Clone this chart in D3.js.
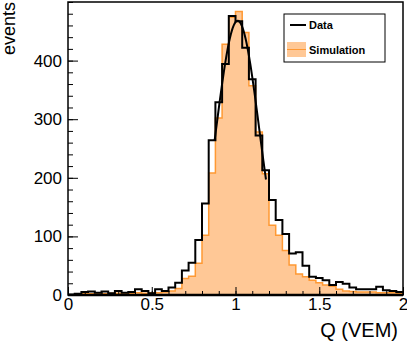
<!DOCTYPE html>
<html>
<head>
<meta charset="utf-8">
<script src="https://cdn.jsdelivr.net/npm/d3@7"></script>
<style>
  body { margin: 0; background: #fff; }
  svg { display: block; font-family: "Liberation Sans", Arial, sans-serif; }
</style>
</head>
<body>
<svg id="chart"></svg>
<script>
// Histogram binning: 50 bins of width 0.04 between 0 and 2 VEM
const binEdges = d3.range(0, 51).map(i => +(i * 0.04).toFixed(2));

// Data counts per bin
const dataCounts = [1, 2, 5, 6, 4, 6, 3, 7, 4, 5, 10, 7, 3, 10, 7, 13, 21, 42, 55, 94,
  156, 264, 329, 394, 476, 467, 422, 368, 272, 213, 162, 128, 104, 71, 73, 50, 31, 29, 25, 17,
  22, 19, 13, 10, 10, 10, 14, 8, 7, 5];

// Simulation counts per bin
const simCounts = [0, 1, 2, 2, 3, 2, 3, 3, 3, 3, 4, 3, 4, 4, 5, 7, 11, 28, 32, 54,
  102, 208, 302, 428, 474, 484, 448, 357, 278, 207, 119, 102, 76, 51, 36, 31, 25, 21, 17, 15,
  10, 7, 6, 5, 5, 5, 4, 4, 4, 3];

// Gaussian fit to the data peak
const fitParams = { amp: 468, mean: 1.013, sigma: 0.1285 };
const fitRange = [0.875, 1.182];

const xMajor = [0, 0.5, 1, 1.5, 2];
const xMinor = d3.range(0, 21).map(i => +(i * 0.1).toFixed(1));
const yMajor = [0, 100, 200, 300, 400];
const yMinor = d3.range(0, 26).map(i => i * 20);

const W = 407, H = 347;
const svg = d3.select("#chart").attr("width", W).attr("height", H);

const x = d3.scaleLinear().domain([0, 2]).range([68, 403]);
const y = d3.scaleLinear().domain([0, 500]).range([295, 2]);

const fillCol = "#ffc896";
const lineCol = "#ff9933";

// step points: each bin's left edge with its count, plus closing right edge
function stepPoints(counts) {
  const pts = counts.map((c, i) => [binEdges[i], c]);
  pts.push([binEdges[counts.length], counts[counts.length - 1]]);
  return pts;
}

const simPts = stepPoints(simCounts);
const dataPts = stepPoints(dataCounts);

// Simulation filled histogram
svg.append("path")
  .datum(simPts)
  .attr("fill", fillCol)
  .attr("d", d3.area().curve(d3.curveStepAfter)
    .x(d => x(d[0])).y0(y(0)).y1(d => y(d[1])));

svg.append("path")
  .datum(simPts)
  .attr("fill", "none")
  .attr("stroke", lineCol)
  .attr("stroke-width", 1.5)
  .attr("d", d3.line().curve(d3.curveStepAfter).x(d => x(d[0])).y(d => y(d[1])));

// Data histogram
svg.append("path")
  .datum(dataPts)
  .attr("fill", "none")
  .attr("stroke", "#000")
  .attr("stroke-width", 2)
  .attr("d", d3.line().curve(d3.curveStepAfter).x(d => x(d[0])).y(d => y(d[1])));

// Gaussian fit curve
const fitPts = d3.range(0, 61).map(i => {
  const q = fitRange[0] + (fitRange[1] - fitRange[0]) * i / 60;
  const v = fitParams.amp * Math.exp(-Math.pow(q - fitParams.mean, 2) / (2 * fitParams.sigma * fitParams.sigma));
  return [q, v];
});
svg.append("path")
  .datum(fitPts)
  .attr("fill", "none")
  .attr("stroke", "#000")
  .attr("stroke-width", 2)
  .attr("d", d3.line().x(d => x(d[0])).y(d => y(d[1])));

// Axes with inward ticks
const xAxisG = svg.append("g").attr("transform", `translate(0,${y(0)})`);
xAxisG.append("g")
  .call(d3.axisBottom(x).tickValues(xMinor).tickSize(-4).tickFormat(""))
  .call(g => g.select(".domain").remove());
xAxisG.append("g")
  .call(d3.axisBottom(x).tickValues(xMajor).tickSize(-8).tickPadding(3).tickFormat(d3.format("")))
  .call(g => g.select(".domain").remove())
  .call(g => g.selectAll("text").attr("font-size", 17).attr("fill", "#000").attr("font-family", null));

const yAxisG = svg.append("g").attr("transform", `translate(${x(0)},0)`);
yAxisG.append("g")
  .call(d3.axisLeft(y).tickValues(yMinor).tickSize(-5).tickFormat(""))
  .call(g => g.select(".domain").remove());
yAxisG.append("g")
  .call(d3.axisLeft(y).tickValues(yMajor).tickSize(-10).tickPadding(6))
  .call(g => g.select(".domain").remove())
  .call(g => g.selectAll("text").attr("font-size", 17).attr("fill", "#000").attr("font-family", null));

svg.selectAll(".tick line").attr("stroke", "#000");

// Frame
svg.append("rect")
  .attr("x", x(0)).attr("y", y(500))
  .attr("width", x(2) - x(0)).attr("height", y(0) - y(500))
  .attr("fill", "none").attr("stroke", "#000").attr("stroke-width", 1.5);
svg.append("line")
  .attr("x1", x(0)).attr("x2", x(2)).attr("y1", y(0)).attr("y2", y(0))
  .attr("stroke", "#000").attr("stroke-width", 2.5);

// Axis titles
svg.append("text")
  .attr("x", 398).attr("y", 337)
  .attr("text-anchor", "end")
  .attr("font-size", 20)
  .text("Q (VEM)");

svg.append("text")
  .attr("transform", "translate(15,2) rotate(-90)")
  .attr("text-anchor", "end")
  .attr("font-size", 18)
  .text("events");

// Legend
const leg = svg.append("g");
leg.append("rect")
  .attr("x", 284).attr("y", 14).attr("width", 101).attr("height", 48)
  .attr("fill", "#fff").attr("stroke", "#000").attr("stroke-width", 1);
leg.append("line")
  .attr("x1", 290).attr("x2", 306).attr("y1", 25).attr("y2", 25)
  .attr("stroke", "#000").attr("stroke-width", 2);
leg.append("rect")
  .attr("x", 287).attr("y", 42).attr("width", 19).attr("height", 15)
  .attr("fill", fillCol);
leg.append("line")
  .attr("x1", 287).attr("x2", 306).attr("y1", 49.5).attr("y2", 49.5)
  .attr("stroke", lineCol).attr("stroke-width", 1);
leg.append("text")
  .attr("x", 309).attr("y", 29)
  .attr("font-size", 11).attr("font-weight", "bold")
  .text("Data");
leg.append("text")
  .attr("x", 309).attr("y", 54)
  .attr("font-size", 11).attr("font-weight", "bold")
  .text("Simulation");
</script>
</body>
</html>
